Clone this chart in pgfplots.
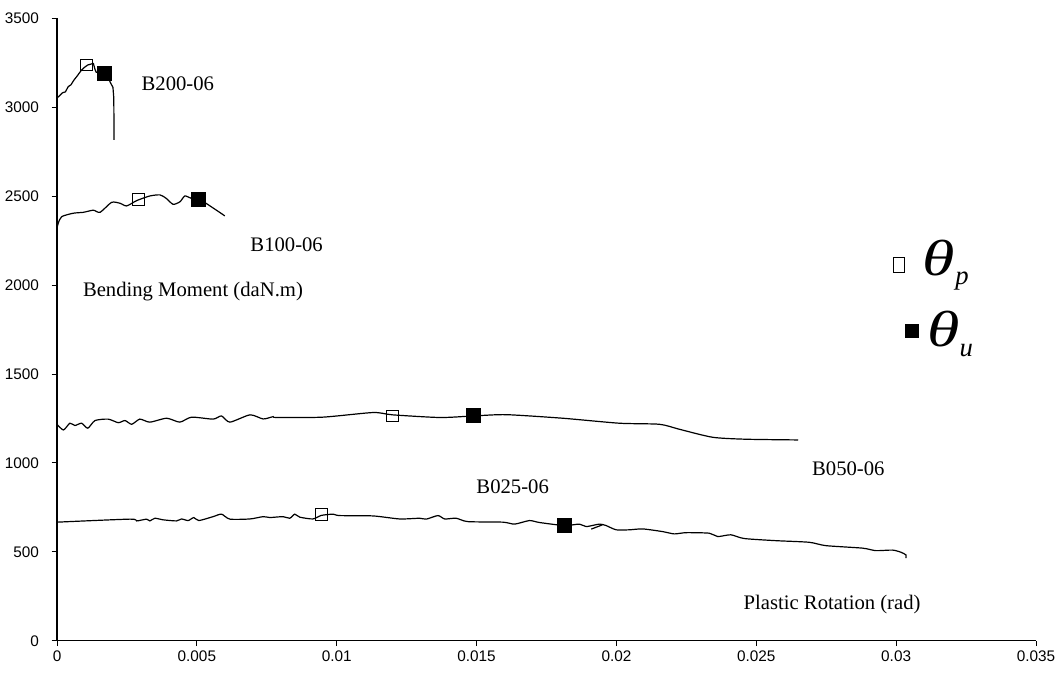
\documentclass[border=0pt]{standalone}
\usepackage{fontspec}
\setmainfont{Liberation Serif}
\setsansfont{Liberation Sans}
\usepackage{graphicx}
\usepackage{pgfplots}
\pgfplotsset{compat=1.18}
\begin{document}
\begin{tikzpicture}
\begin{axis}[
  scale only axis, width=734pt, height=467pt,
  xmin=0, xmax=0.035, ymin=0, ymax=3500,
  axis x line=bottom, axis y line=left,
  axis line style={-, line width=0.9pt},
  scaled x ticks=false,
  xtick={0,0.005,0.01,0.015,0.02,0.025,0.03,0.035},
  xticklabels={0,0.005,0.01,0.015,0.02,0.025,0.03,0.035},
  ytick={0,500,1000,1500,2000,2500,3000,3500},
  ticklabel style={font=\fontsize{11.5}{13}\selectfont\sffamily},
  yticklabel style={xshift=-6pt},
  /pgf/number format/assume math mode=true,
  /pgf/number format/1000 sep={},
  tick align=outside, major tick length=4pt,
  tick style={black, line width=0.6pt},
  clip=false,
  every axis plot/.append style={line width=0.9pt, black},
]
% B200-06
\addplot[no marks, line join=round] coordinates {
(0,3050) (0.0002,3080) (0.0003,3085) (0.0004,3114) (0.0005,3125) (0.0006,3150) (0.0007,3170)
(0.00088,3208) (0.0010,3225) (0.0011,3236) (0.0013,3245) (0.00135,3215) (0.0014,3195)
(0.0016,3192) (0.0018,3180) (0.0019,3140) (0.0020,3110) (0.00203,3050) (0.00204,2815)};
% B100-06
\addplot[no marks, smooth, tension=0.4] coordinates {
(0,2320) (0.00005,2350) (0.00017,2384) (0.00058,2403) (0.00094,2408) (0.0013,2420)
(0.00154,2408) (0.00195,2464) (0.00225,2459) (0.00249,2444) (0.00285,2474) (0.00332,2500)
(0.00368,2506) (0.0039,2487) (0.00415,2453) (0.0044,2468) (0.00457,2500) (0.0048,2487)
(0.0051,2481) (0.006,2388)};
% B050-06
\addplot[no marks, smooth, tension=0.4] coordinates {
(0,1217) (0.00023,1185) (0.00046,1223) (0.00064,1210) (0.00088,1223) (0.0011,1195)
(0.00136,1238) (0.00183,1246) (0.00219,1226) (0.00243,1238) (0.00267,1217) (0.00296,1246)
(0.00332,1229) (0.00392,1251) (0.00439,1229) (0.00481,1257) (0.00558,1246) (0.00588,1264)
(0.00618,1229) (0.0069,1270) (0.00737,1247) (0.00773,1260) (0.00785,1255) (0.0095,1257)
(0.0113,1283) (0.012,1270) (0.0137,1255) (0.0149,1264) (0.01606,1271) (0.01808,1251)
(0.0201,1223) (0.02154,1217) (0.02225,1189) (0.02344,1144) (0.02463,1133) (0.0265,1129)};
% B025-06
\addplot[no marks, smooth, tension=0.4] coordinates {
(0,667) (0.0026,684) (0.00285,674) (0.0032,684) (0.00332,674) (0.0035,689) (0.0038,680)
(0.00427,674) (0.00445,685) (0.00469,676) (0.00489,693) (0.00507,676) (0.00558,698)
(0.00588,712) (0.00618,684) (0.0069,685) (0.00737,698) (0.00761,693) (0.00808,698)
(0.00832,689) (0.0085,712) (0.00868,695) (0.00915,685) (0.00945,705) (0.00987,712)
(0.0101,704) (0.0113,702) (0.01225,685) (0.01296,689) (0.0132,684) (0.01362,704)
(0.01386,685) (0.01427,689) (0.01469,670) (0.01594,667) (0.01636,656) (0.01689,676)
(0.01725,665) (0.01814,648) (0.01868,656) (0.01892,642) (0.01939,656) (0.01963,648)
(0.01999,624) (0.02046,624) (0.02094,629) (0.02165,614) (0.02207,601) (0.02249,608)
(0.02332,605) (0.02362,586) (0.02409,596) (0.02457,575) (0.0257,563) (0.02689,554)
(0.02749,535) (0.0288,521) (0.02927,507) (0.02987,510) (0.03017,498) (0.03035,483)
(0.03035,465)};
% hysteresis hook
\addplot[no marks] coordinates {(0.0191,628) (0.0195,652)};
% theta_p markers
\addplot[only marks, mark=square, mark size=4.4pt, mark options={line width=0.7pt, black}] coordinates {
(0.00104,3236) (0.0029,2480) (0.012,1264) (0.00945,710)};
% theta_u markers
\addplot[only marks, mark=square*, mark size=5.2pt, mark options={fill=black}] coordinates {
(0.0017,3190) (0.00507,2481) (0.0149,1264) (0.01814,646)};
% legend markers
\addplot[only marks, mark=square, mark size=5.8pt, mark options={line width=0.7pt, black, xscale=0.75}] coordinates {(0.0301,2112)};
\addplot[only marks, mark=square*, mark size=4.6pt, mark options={fill=black}] coordinates {(0.03057,1742)};
% labels
\node[font=\fontsize{15.5}{18}\selectfont] at (axis cs:0.00432,3129) {B200-06};
\node[font=\fontsize{15.5}{18}\selectfont] at (axis cs:0.00821,2225) {B100-06};
\node[font=\fontsize{15.5}{18}\selectfont] at (axis cs:0.00486,1961) {Bending Moment (daN.m)};
\node[font=\fontsize{15.5}{18}\selectfont] at (axis cs:0.02829,966) {B050-06};
\node[font=\fontsize{15.5}{18}\selectfont] at (axis cs:0.01629,865) {B025-06};
\node[font=\fontsize{15.5}{18}\selectfont] at (axis cs:0.02771,202) {Plastic Rotation (rad)};
\node[anchor=west, inner sep=0pt] at (axis cs:0.03095,2112) {\scalebox{1.3}[1]{\fontsize{38}{40}\selectfont\itshape θ}\raisebox{-7pt}{\fontsize{20}{22}\selectfont\itshape p}};
\node[anchor=west, inner sep=0pt] at (axis cs:0.0311,1725) {\scalebox{1.3}[1]{\fontsize{38}{40}\selectfont\itshape θ}\raisebox{-7pt}{\fontsize{20}{22}\selectfont\itshape u}};
\end{axis}
\pgfresetboundingbox
\path[use as bounding box] ([xshift=-42.75pt,yshift=-24pt]current axis.south west) rectangle ([xshift=18.75pt,yshift=13.5pt]current axis.north east);
\end{tikzpicture}
\end{document}
